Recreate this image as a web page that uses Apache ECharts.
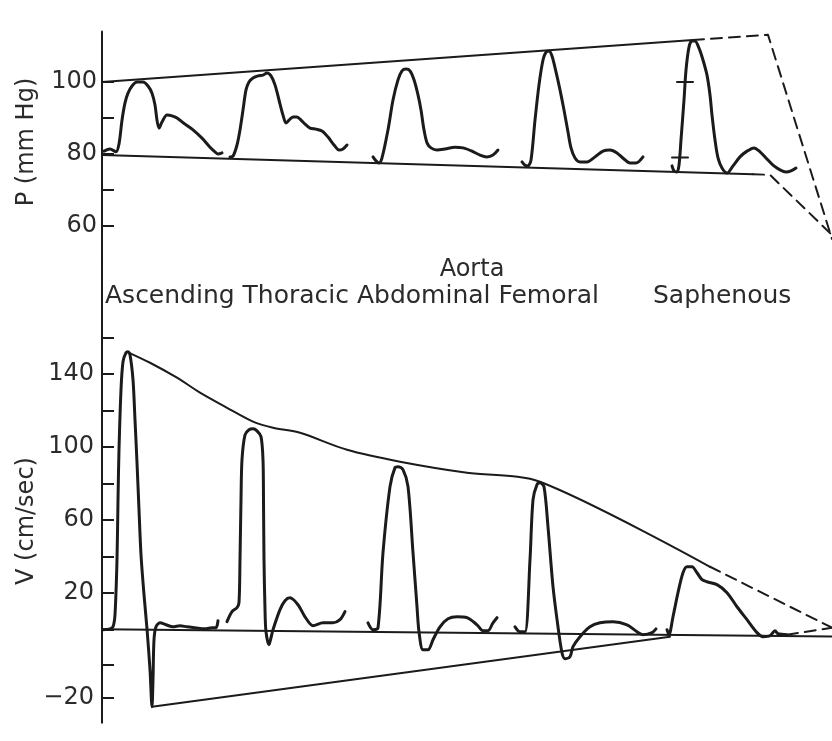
<!DOCTYPE html>
<html>
<head>
<meta charset="utf-8">
<title>Aortic and peripheral pressure / velocity waves</title>
<script src="https://cdn.jsdelivr.net/npm/echarts@6/dist/echarts.min.js"></script>
<style>
  html, body { margin: 0; padding: 0; background: #fff; }
  #chart { width: 832px; height: 741px; }
</style>
</head>
<body>
<div id="chart"></div>
<script>
// time axis is arbitrary (one unit ~ one pixel of the original figure)
const sites = ['Ascending', 'Thoracic', 'Abdominal', 'Femoral', 'Saphenous'];

// ---- pressure, mm Hg ----
const pAscending = [[2,80.8],[8,81.4],[14,80.6],[17,82.8],[20,89.4],[23,94.2],[26,96.9],[30,98.9],[35,100],[41,100],[46,98.9],[50,96.9],[53,93.6],[55,89.4],[57,87.2],[60,88.9],[65,90.8],[70,90.6],[75,90],[83,88.3],[91,86.7],[100,84.4],[108,81.9],[113,80.6],[116,80],[120,80.3]];
const pThoracic = [[128,79.2],[131,79.4],[135,82.5],[138,86.7],[141,92.2],[144,97.8],[147,100],[151,101.1],[156,101.7],[161,101.9],[165,102.5],[169,101.7],[173,99.2],[177,95],[181,90.8],[184,88.6],[187,89.4],[191,90.3],[195,90.3],[199,89.4],[203,88.3],[208,87.2],[214,86.9],[220,86.4],[226,84.7],[232,82.5],[237,81.1],[241,81.4],[245,82.5]];
const pAbdominal = [[271,79.2],[274,78.1],[277,77.5],[280,78.9],[286,86.7],[291,95],[296,100.6],[300,103.1],[304,103.6],[308,103.1],[312,100.6],[316,96.4],[319,92.2],[322,86.7],[325,83.1],[329,81.7],[335,81.1],[343,81.4],[353,81.9],[361,81.7],[370,80.8],[378,79.7],[385,79.2],[391,79.7],[396,81.1]];
const pFemoral = [[420,77.8],[423,76.9],[426,76.7],[429,78.3],[433,89.4],[437,99.2],[441,106.1],[444,108.3],[447,108.6],[450,107.2],[454,102.8],[458,97.8],[462,92.2],[466,86.1],[469,81.7],[473,78.9],[478,77.8],[485,77.8],[493,79.2],[501,80.8],[508,81.1],[515,80.3],[522,78.6],[528,77.5],[534,77.5],[541,79.2]];
const pSaphenous = [[570,76.7],[572,75.3],[575,75],[577,76.9],[579,83.9],[582,95],[584,103.3],[587,109.7],[590,111.4],[593,111.4],[597,109.4],[601,106.1],[605,101.9],[608,96.4],[610,90.8],[613,83.9],[616,78.9],[620,76.1],[625,74.7],[631,76.7],[638,79.2],[645,80.8],[652,81.7],[658,80.6],[664,78.9],[671,76.9],[678,75.6],[684,75],[689,75.3],[694,76.1]];
const pCalMarks = [[[575,100],[591,100]], [[570,79],[586,79]]];
const pUpper = [[0,100],[591,111.7]];
const pUpperDash = [[591,111.7],[666,113.1],[730,56.4]];
const pLower = [[0,79.7],[651,74.4]];
const pLowerDash = [[651,74.4],[668,74.2],[730,57.5]];

// ---- velocity, cm/sec ----
const vAscending = [[1,0],[8,0.5],[11,1.6],[13,8.2],[15,38.4],[16,71.2],[17,98.6],[19,131.5],[21,146.8],[24,151.8],[26,152.3],[28,150.7],[31,137],[33,115],[35,91.5],[37,65.8],[39,41.1],[42,19.2],[45,0.5],[48,-21.9],[50,-42.2],[51,-27.4],[52,-5.5],[54,1.6],[58,3.8],[64,2.7],[71,1.6],[78,2.2],[85,1.6],[93,1.1],[103,0.5],[110,1.1],[114,1.1],[116,4.9]];
const vThoracic = [[125,4.4],[130,9.9],[135,12.1],[137,14.8],[138,38.4],[139,71.2],[140,93.2],[143,106.8],[147,109.6],[151,110.1],[155,109],[159,105.8],[161,93.2],[161.5,71.2],[162,38.4],[163,11],[164,-1.1],[167,-8.2],[169,-4.4],[171,0],[178,11],[183,15.9],[188,17.5],[196,13.7],[203,7.1],[211,2.2],[221,3.8],[231,3.8],[238,5.5],[243,9.9]];
const vAbdominal = [[266,3.8],[271,0],[276,1.1],[281,42.2],[288,78.4],[293,88.8],[296,89.3],[301,87.7],[306,78.4],[311,42.2],[315,12.6],[317,-1.1],[321,-11],[326,-11],[331,-5.5],[338,1.6],[346,6],[355,7.1],[365,6.6],[375,2.7],[381,-0.5],[386,-0.5],[391,3.8],[395,6.6]];
const vFemoral = [[413,1.6],[418,-1.1],[423,-1.1],[428,38.4],[431,71.2],[435,79.5],[438,80.5],[442,78.4],[446,56.4],[451,23.6],[456,1.6],[460,-12.6],[463,-15.9],[468,-14.8],[471,-9.3],[478,-3.8],[488,1.6],[498,3.8],[511,4.4],[525,2.7],[535,-1.1],[541,-2.7],[550,-1.6],[554,0.5]];
const vSaphenous = [[565,0],[567,-2.7],[571,7.1],[576,20.3],[581,31.2],[585,34.5],[590,34.5],[595,31.2],[600,27.4],[605,26.3],[615,24.7],[625,20.3],[635,12.6],[645,5.5],[655,-1.6],[661,-3.8],[668,-3.3],[673,-0.5],[676,-2.2],[685,-2.7]];
const vBaseline = [[0,0.3],[730,-3.7]];
const vUpper = [[25,152.3],[48,146.3],[75,138.1],[98,129.9],[125,121.6],[151,114],[171,110.7],[198,107.9],[245,98.6],[298,92.1],[365,86],[438,81.1],[608,34.5]];
const vUpperDash = [[608,34.5],[730,1.1]];
const vLower = [[50,-42.2],[568,-3.8]];
const vLowerDash = [[685,-2.7],[730,1.1]];

// axis ticks and labels
const pTicks = [60, 70, 80, 90, 100];
const pLabels = [60, 80, 100];
const vTicks = [-37.5, -19, 0, 20, 40, 60, 80, 100, 120, 140, 160];
// the printed "−20" sits one tick lower than a linear scale would put it
const vLabels = [-37.5, 20, 60, 100, 140];
const vLabelText = ['−20', '20', '60', '100', '140'];

const INK = '#1b1b1b';
const TEXT = '#2b2b2b';
const FONT = 'DejaVu Sans';

const chart = echarts.init(document.getElementById('chart'), null, { renderer: 'canvas' });

function line(data, g, width, dashed, smooth) {
  return {
    type: 'line', xAxisIndex: g, yAxisIndex: g, data: data,
    symbol: 'none', smooth: smooth ? 0.3 : false, silent: true,
    lineStyle: { color: INK, width: width, type: dashed ? [11, 7] : 'solid', cap: 'round', join: 'round' }
  };
}

const series = [];
[pAscending, pThoracic, pAbdominal, pFemoral, pSaphenous].forEach(d => series.push(line(d, 0, 3, false, true)));
pCalMarks.forEach(d => series.push(line(d, 0, 2, false, false)));
series.push(line(pUpper, 0, 2, false, false));
series.push(line(pLower, 0, 2, false, false));
series.push(line(pUpperDash, 0, 2, true, false));
series.push(line(pLowerDash, 0, 2, true, false));
[vAscending, vThoracic, vAbdominal, vFemoral, vSaphenous].forEach(d => series.push(line(d, 1, 3, false, true)));
series.push(line(vBaseline, 1, 2, false, false));
series.push(line(vUpper, 1, 2, false, true));
series.push(line(vLower, 1, 2, false, false));
series.push(line(vUpperDash, 1, 2, true, false));
series.push(line(vLowerDash, 1, 2, true, false));

function xAx(g) {
  return { type: 'value', gridIndex: g, min: 0, max: 730, show: false };
}

const option = {
  animation: false,
  backgroundColor: '#ffffff',
  grid: [
    { left: 102, right: 0, top: 31.6, height: 230.4 },
    { left: 102, right: 0, top: 262, height: 460.8 }
  ],
  xAxis: [xAx(0), xAx(1)],
  yAxis: [
    {
      type: 'value', gridIndex: 0, min: 50, max: 114,
      axisLine: { show: true, lineStyle: { color: INK, width: 2 } },
      axisTick: { show: true, inside: true, length: 12, customValues: pTicks, lineStyle: { color: INK, width: 2 } },
      axisLabel: { customValues: pLabels, margin: 5, color: TEXT, fontFamily: FONT, fontSize: 24 },
      splitLine: { show: false }
    },
    {
      type: 'value', gridIndex: 1, min: -51, max: 201.5,
      axisLine: { show: true, lineStyle: { color: INK, width: 2 } },
      axisTick: { show: true, inside: true, length: 12, customValues: vTicks, lineStyle: { color: INK, width: 2 } },
      axisLabel: {
        customValues: vLabels, margin: 8, color: TEXT, fontFamily: FONT, fontSize: 24,
        formatter: v => vLabelText[vLabels.indexOf(v)]
      },
      splitLine: { show: false }
    }
  ],
  graphic: [
    { type: 'text', x: 27, y: 142, rotation: Math.PI / 2, silent: true,
      style: { text: 'P (mm Hg)', fill: TEXT, font: '24px "DejaVu Sans"', align: 'center', verticalAlign: 'middle' } },
    { type: 'text', x: 27, y: 521, rotation: Math.PI / 2, silent: true,
      style: { text: 'V (cm/sec)', fill: TEXT, font: '24px "DejaVu Sans"', align: 'center', verticalAlign: 'middle' } },
    { type: 'text', x: 472, y: 270, silent: true,
      style: { text: 'Aorta', fill: TEXT, font: '24px "DejaVu Sans"', align: 'center', verticalAlign: 'middle' } },
    { type: 'text', x: 105, y: 296, silent: true,
      style: { text: sites.slice(0, 4).join(' '), fill: TEXT, font: '25px "DejaVu Sans"', align: 'left', verticalAlign: 'middle' } },
    { type: 'text', x: 653, y: 296, silent: true,
      style: { text: sites[4], fill: TEXT, font: '25px "DejaVu Sans"', align: 'left', verticalAlign: 'middle' } }
  ],
  series: series
};

chart.setOption(option);
</script>
</body>
</html>
